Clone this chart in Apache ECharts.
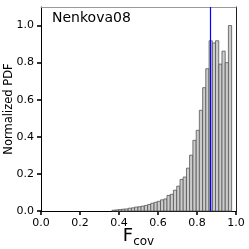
<!DOCTYPE html>
<html>
<head>
<meta charset="utf-8">
<script src="https://cdn.jsdelivr.net/npm/echarts@6/dist/echarts.min.js"></script>
<style>
html,body{margin:0;padding:0;background:#fff;}
#c{width:249px;height:249px;}
</style>
</head>
<body>
<div id="c"></div>
<script>
const title = "Nenkova08";
const binWidth = 0.0166;
const binStart = [0.364,0.381,0.397,0.414,0.430,0.447,0.464,0.480,0.497,0.513,
  0.530,0.547,0.563,0.580,0.596,0.613,0.630,0.646,0.663,0.679,
  0.696,0.713,0.729,0.746,0.762,0.779,0.796,0.812,0.829,0.845,
  0.862,0.879,0.895,0.912,0.928,0.945,0.961];
const pdf = [0.004,0.006,0.008,0.010,0.011,0.015,0.017,0.021,0.023,0.026,
  0.030,0.035,0.042,0.047,0.052,0.060,0.065,0.084,0.090,0.112,
  0.134,0.170,0.183,0.231,0.301,0.381,0.435,0.543,0.665,0.767,
  0.918,0.906,0.918,0.792,0.862,0.800,1.000];
const meanLine = 0.867;

const histData = binStart.map((s,i)=>[s, s+binWidth, pdf[i]]);
const font = 'DejaVu Sans';
const chart = echarts.init(document.getElementById('c'), null, {renderer:'canvas'});
chart.setOption({
  animation:false,
  grid:{left:41,right:13,top:7,bottom:38,containLabel:false,outerBoundsMode:'none'},
  xAxis:[{
    type:'value',min:0,max:1,interval:0.2,
    axisLine:{show:true,onZero:false,lineStyle:{color:'#000',width:1}},
    axisTick:{show:true,length:4,inside:false,lineStyle:{color:'#000',width:1.6}},
    axisLabel:{show:true,color:'#000',fontFamily:font,fontSize:11,margin:7,formatter:v=>v.toFixed(1)},
    splitLine:{show:false},
    name:'{a|F}{b|cov}',nameLocation:'middle',nameGap:14,nameMoveOverlap:false,
    nameTextStyle:{rich:{
      a:{fontFamily:font,fontSize:18,color:'#000',verticalAlign:'bottom',lineHeight:20},
      b:{fontFamily:font,fontSize:12,color:'#000',verticalAlign:'bottom',lineHeight:14,padding:[0,0,-3,0]}
    }}
  },{
    type:'value',min:0,max:1,position:'top',
    axisLine:{show:true,onZero:false,lineStyle:{color:'#999',width:1}},
    axisTick:{show:false},axisLabel:{show:false},splitLine:{show:false}
  }],
  yAxis:[{
    type:'value',min:0,max:1.1,interval:0.2,
    axisLine:{show:true,onZero:false,lineStyle:{color:'#000',width:1}},
    axisTick:{show:true,length:4,inside:false,lineStyle:{color:'#000',width:1.6}},
    axisLabel:{show:true,color:'#000',fontFamily:font,fontSize:11,margin:7,showMaxLabel:false,formatter:v=>v.toFixed(1)},
    splitLine:{show:false},
    name:'Normalized PDF',nameLocation:'middle',nameGap:26,nameRotate:90,nameMoveOverlap:false,
    nameTextStyle:{fontFamily:font,fontSize:11.5,color:'#000'}
  },{
    type:'value',min:0,max:1.1,position:'right',
    axisLine:{show:true,onZero:false,lineStyle:{color:'#222',width:1}},
    axisTick:{show:false},axisLabel:{show:false},splitLine:{show:false}
  }],
  graphic:[{
    type:'text',left:52,top:11,
    style:{text:title,fontFamily:font,fontSize:14,fill:'#000'}
  }],
  series:[{
    type:'custom',
    xAxisIndex:0,yAxisIndex:0,
    data:histData,
    encode:{x:[0,1],y:2},
    renderItem:function(params,api){
      const p0 = api.coord([api.value(0),0]);
      const p1 = api.coord([api.value(1),api.value(2)]);
      return {type:'rect',shape:{x:p0[0],y:p1[1],width:p1[0]-p0[0],height:p0[1]-p1[1]},
        style:{fill:'#cccccc',stroke:'#555555',lineWidth:0.8}};
    },
    markLine:{
      silent:true,symbol:['none','none'],label:{show:false},
      lineStyle:{color:'#0000ff',width:1.2,type:'solid'},
      data:[{xAxis:meanLine}]
    }
  }]
});
</script>
</body>
</html>
